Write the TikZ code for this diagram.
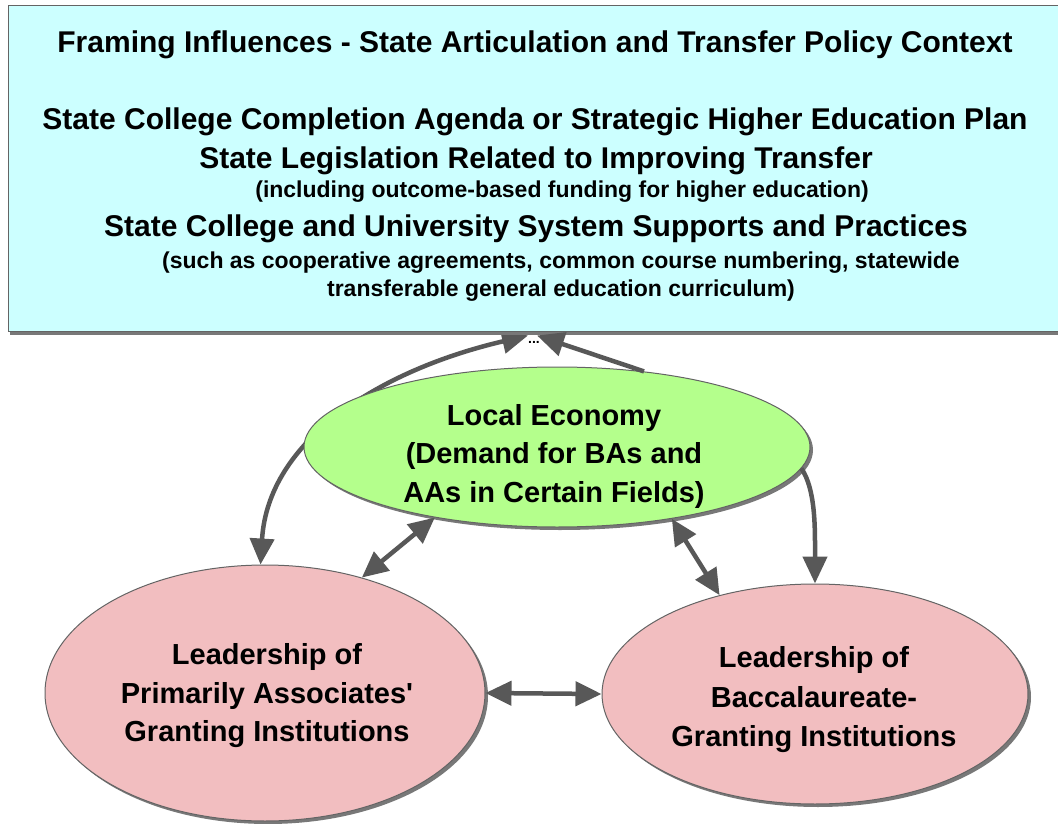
\documentclass[tikz,border=0pt]{standalone}
\usepackage{fontspec}
\setmainfont{Liberation Sans}[Ligatures=TeXOff]
\usetikzlibrary{shapes.geometric,arrows.meta,shadows,backgrounds,calc}
\definecolor{boxcyan}{RGB}{204,255,255}
\definecolor{ecogreen}{RGB}{180,255,140}
\definecolor{lpink}{RGB}{242,190,192}
\definecolor{arrgray}{RGB}{88,88,88}
\definecolor{edgegray}{RGB}{100,100,100}
\definecolor{shadowgray}{RGB}{120,120,120}
\begin{document}
\begin{tikzpicture}[x=1pt,y=-1pt,
  arr/.style={draw=arrgray, line width=4.5pt, -{Triangle[length=27pt,width=24pt]}},
  dbl/.style={draw=arrgray, line width=4.5pt, {Triangle[length=26pt,width=24pt]}-{Triangle[length=26pt,width=24pt]}},
  oval/.style={ellipse, draw=edgegray, line width=1pt, inner sep=0pt,
    drop shadow={shadow xshift=3pt, shadow yshift=-3pt, fill=shadowgray, opacity=1}},
  topbox/.style={rectangle, fill=boxcyan, draw=edgegray, line width=1pt, inner sep=0pt,
    drop shadow={shadow xshift=2pt, shadow yshift=-4pt, fill=shadowgray, opacity=1}},
  big/.style={font=\fontsize{29}{38.5}\selectfont\bfseries, align=center, inner sep=0pt},
  boxbig/.style={font=\fontsize{30}{38}\selectfont\bfseries, inner sep=0pt},
  small/.style={font=\fontsize{23}{28}\selectfont\bfseries, inner sep=0pt},
  ]
\useasboundingbox (0,0) rectangle (1058,824);
\begin{scope}[on background layer]
\fill[white] (0,0) rectangle (1058,824);
\end{scope}

% top context box
\node[topbox, minimum width=1058pt, minimum height=325pt] (top) at (537,168.5) {};
\node[boxbig, anchor=base] (t1) at (535,53) {Framing Influences - State Articulation and Transfer Policy Context};
\node[boxbig, anchor=base] (t2) at (535,130) {State College Completion Agenda or Strategic Higher Education Plan};
\node[boxbig, anchor=base] (t3) at (536,168) {State Legislation Related to Improving Transfer};
\node[small, anchor=base] (t4) at (562,197) {(including outcome-based funding for higher education)};
\node[boxbig, anchor=base] (t5) at (536,236) {State College and University System Supports and Practices};
\node[small, anchor=base] (t6) at (561,268) {(such as cooperative agreements, common course numbering, statewide};
\node[small, anchor=base] (t7) at (561,296) {transferable general education curriculum)};

% ellipses
\node[oval, fill=ecogreen, minimum width=506pt, minimum height=160pt] (eco) at (557,447) {};
\node[big] (ecot) at (554,456) {Local Economy\\(Demand for BAs and\\AAs in Certain Fields)};

\node[oval, fill=lpink, minimum width=440pt, minimum height=256pt] (lp) at (265,693) {};
\node[big] (lpt) at (267,696) {Leadership of\\Primarily Associates'\\Granting Institutions};

\node[oval, fill=lpink, minimum width=426pt, minimum height=220pt] (rp) at (815,694) {};
\node[big, font=\fontsize{29}{39.5}\selectfont\bfseries] (rpt) at (814,700) {Leadership of\\Baccalaureate-\\Granting Institutions};

\node[font=\fontsize{14}{14}\selectfont\bfseries, inner sep=0pt] (dots) at (534,342) {...};

% connectors
\begin{scope}[on background layer]
\draw[dbl] (lp.92) .. controls (268,440) and (380,370) .. ($(top.south)+(-9,4)$);
\end{scope}
\draw[arr] (eco.41) -- ($(top.south)+(0,4)$);
\draw[arr] (eco.-5) .. controls (816,490) and (815,530) .. (rp.north);
\draw[dbl] (eco.210) -- (lp.50);
\draw[dbl] (eco.-32) -- (rp.134);
\draw[dbl] (lp.east) -- (rp.west);
\end{tikzpicture}
\end{document}
